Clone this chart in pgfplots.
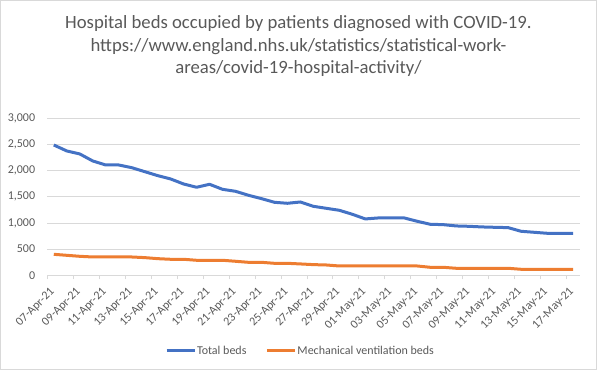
\documentclass[border=0pt]{standalone}
\usepackage{pgfplots}
\pgfplotsset{compat=1.18}
\usepackage{pgfplotstable}
\usepackage{fontspec}
\setmainfont{Carlito}
\definecolor{txt}{HTML}{595959}
\definecolor{gridc}{HTML}{D9D9D9}
\definecolor{blueline}{HTML}{4472C4}
\definecolor{orangeline}{HTML}{ED7D31}
\definecolor{frame}{HTML}{D9D9D9}

\pgfplotstableread{
x total mech
0 2490 401
1 2376 382
2 2319 363
3 2185 350
4 2108 350
5 2108 350
6 2057 350
7 1981 338
8 1905 318
9 1841 306
10 1745 306
11 1682 287
12 1739 287
13 1643 287
14 1605 268
15 1529 248
16 1465 248
17 1395 229
18 1376 229
19 1401 217
20 1318 204
21 1280 197
22 1242 178
23 1166 178
24 1077 178
25 1096 178
26 1096 178
27 1096 178
28 1032 178
29 975 153
30 968 153
31 943 134
32 936 134
33 924 134
34 917 134
35 911 134
36 841 115
37 822 115
38 803 115
39 803 115
40 803 115
}\datatable

\begin{document}
\begin{tikzpicture}
\useasboundingbox (0,0) rectangle (597bp,370bp);
\draw[frame, line width=1bp] (0.5bp,0.5bp) rectangle (596.5bp,369.5bp);
\begin{scope}[every node/.style={font=\fontsize{18.7bp}{22bp}\selectfont, text=txt, anchor=base, inner sep=0pt}]
\node at (298.5bp,341bp) {Hospital beds occupied by patients diagnosed with COVID-19.};
\node at (298.5bp,318.5bp) {https://www.england.nhs.uk/statistics/statistical-work-};
\node at (298.5bp,296.5bp) {areas/covid-19-hospital-activity/};
\end{scope}
\begin{axis}[
  at={(47.3bp,94.7bp)}, anchor=south west,
  scale only axis, width=532.2bp, height=157bp,
  xmin=-0.5, xmax=40.5, ymin=0, ymax=3000,
  axis line style={draw=none},
  tick pos=left,
  ymajorgrids, grid style={gridc, line width=0.75bp},
  ytick={0,500,...,3000},
  xtick={0,2,...,40},
  xticklabels={07-Apr-21,09-Apr-21,11-Apr-21,13-Apr-21,15-Apr-21,17-Apr-21,19-Apr-21,21-Apr-21,23-Apr-21,25-Apr-21,27-Apr-21,29-Apr-21,01-May-21,03-May-21,05-May-21,07-May-21,09-May-21,11-May-21,13-May-21,15-May-21,17-May-21},
  major tick length=0pt,
  extra x ticks={-0.5,1.5,...,39.5},
  extra x tick labels={},
  extra x tick style={major tick length=4bp, tick align=outside, xmajorgrids=false, tick style={draw=gridc, line width=0.75bp}},
  /pgf/number format/1000 sep={,},
  /pgf/number format/assume math mode=true,
  yticklabel style={font=\fontsize{12bp}{14bp}\selectfont, text=txt, anchor=east, inner sep=0pt, xshift=-12bp},
  xticklabel style={font=\fontsize{12bp}{14bp}\selectfont, text=txt, inner sep=0pt, xshift=-1bp, yshift=-14.6bp, rotate=45, anchor=east},
  legend style={at={(0.4748,-0.480)}, anchor=center, draw=none, fill=none, legend columns=2,
    font=\fontsize{12bp}{14bp}\selectfont, text=txt,
    nodes={inner sep=1bp},
    /tikz/every even column/.append style={column sep=18bp}},
  legend image code/.code={\draw[#1] (0bp,0bp) -- (28bp,0bp);},
  legend cell align=left,
]
\addplot[blueline, line width=3bp, line join=round] table[x=x, y=total] {\datatable};
\addlegendentry{Total beds}
\addplot[orangeline, line width=3bp, line join=round] table[x=x, y=mech] {\datatable};
\addlegendentry{Mechanical ventilation beds}
\end{axis}
\end{tikzpicture}
\end{document}
